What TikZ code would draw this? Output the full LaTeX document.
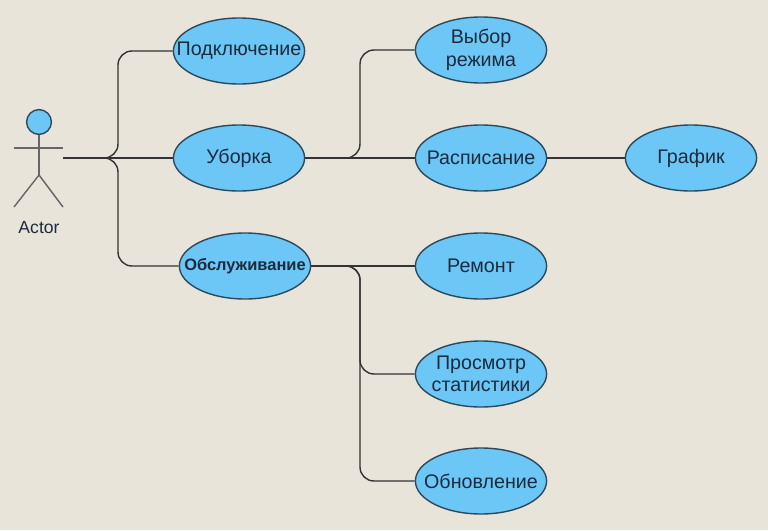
\documentclass[tikz,border=0pt]{standalone}
\usepackage{fontspec}
\setmainfont{Liberation Sans}
\usepackage{tikz}
\usetikzlibrary{shapes,positioning}
\definecolor{paper}{HTML}{E8E4DA}
\definecolor{sky}{HTML}{6CC6F6}
\definecolor{ink}{HTML}{2C4A5C}
\definecolor{label}{HTML}{1C2C3C}
\tikzstyle{usecase}=[ellipse, draw=ink, fill=sky, line width=1pt, align=center, text=label, inner xsep=-15mm, inner ysep=-6mm, minimum width=32.8mm, minimum height=16.5mm, font=\fontsize{14}{16}\selectfont]
\tikzstyle{stick}=[draw=black!60, line width=1pt]
\tikzstyle{link}=[draw=black!80, line width=1pt, rounded corners=3.5mm]

\begin{document}
\begin{tikzpicture}

\fill[paper] (0,0) rectangle (19.2,-13.25);

\node[usecase](connect) at (5.975,-1.275) {Подключение};
\node[usecase](clean) at (5.975,-3.95) {Уборка};
\node[usecase,font=\fontsize{11.7}{13}\selectfont\bfseries](service) at (6.125,-6.65) {Обслуживание};
\node[usecase](mode) at (12.025,-1.25) {Выбор\\режима};
\node[usecase](plan) at (12.025,-3.95) {Расписание};
\node[usecase](chart) at (17.275,-3.95) {График};
\node[usecase](repair) at (12.025,-6.65) {Ремонт};
\node[usecase](stats) at (12.025,-9.35) {Просмотр\\статистики};
\node[usecase](update) at (12.025,-12.025) {Обновление};

%actor
\node[circle,draw=ink,fill=sky,line width=1pt,minimum size=6.2mm,inner sep=0pt](head) at (0.975,-3.05) {};
\coordinate (hip) at (0.975,-4.375);
\coordinate (armL) at (0.35,-3.7);
\coordinate (armR) at (1.575,-3.7);
\coordinate (footL) at (0.35,-5.175);
\coordinate (footR) at (1.575,-5.175);
\node[text=label,font=\fontsize{12.5}{14}\selectfont](actor) at (0.975,-5.7) {Actor};
\draw[stick](head.south) -- (hip);
\draw[stick](armL) -- (armR);
\draw[stick](footL) -- (hip) -- (footR);

\coordinate (hand) at (1.575,-3.95);
\coordinate (bus1) at (2.95,-3.95);
\coordinate (bus2) at (9,-3.95);
\coordinate (bus3) at (9,-6.65);

\draw[link](hand) -- (clean.west);
\draw[link](hand) -- (bus1) |- (connect.west);
\draw[link](hand) -- (bus1) |- (service.west);
\draw[link](clean.east) -- (plan.west);
\draw[link](clean.east) -- (bus2) |- (mode.west);
\draw[link](plan.east) -- (chart.west);
\draw[link](service.east) -- (repair.west);
\draw[link](service.east) -- (bus3) |- (stats.west);
\draw[link](service.east) -- (bus3) |- (update.west);

\end{tikzpicture}
\end{document}
